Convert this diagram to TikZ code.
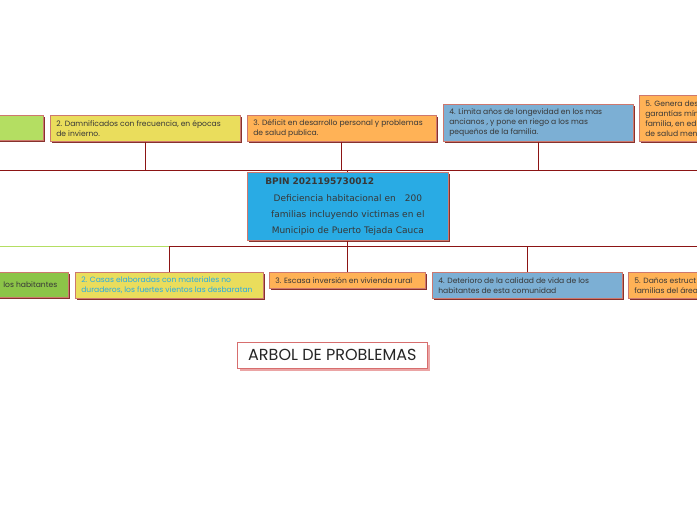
\documentclass[tikz,border=0pt]{standalone}
\usepackage{fontspec}
\setmainfont{Poppins}
\newfontfamily\dvs{DejaVu Sans}
\usetikzlibrary{shadows}
\definecolor{lgreen}{RGB}{180,222,98}
\definecolor{dgreen}{RGB}{140,196,72}
\definecolor{yel}{RGB}{234,221,92}
\definecolor{ora}{RGB}{255,178,86}
\definecolor{sblue}{RGB}{124,175,212}
\definecolor{cblue}{RGB}{41,171,228}
\definecolor{conn}{RGB}{140,20,20}
\definecolor{bord}{RGB}{205,120,110}
\definecolor{shad}{RGB}{135,50,45}
\definecolor{txt}{RGB}{55,55,55}
\definecolor{ttlbord}{RGB}{215,110,110}
\definecolor{ttlshad}{RGB}{235,165,165}
\begin{document}
\begin{tikzpicture}[x=1pt,y=-1pt,
  box/.style={draw=bord, line width=0.6pt, rectangle, anchor=north west,
    inner xsep=6pt, inner ysep=2pt, align=flush left, text=txt,
    font=\fontsize{7.6}{10}\selectfont,
    drop shadow={shadow xshift=2pt, shadow yshift=-2pt, fill=shad, opacity=1}},
  cbox/.style={box, align=center, inner xsep=6pt,
    font=\dvs\fontsize{9}{15.8}\selectfont},
  ttl/.style={draw=ttlbord, line width=0.7pt, fill=white, anchor=north west,
    minimum width=190pt, minimum height=26pt, inner sep=0pt, text=black!85,
    font=\fontsize{16}{18}\selectfont,
    drop shadow={shadow xshift=2.2pt, shadow yshift=-2.2pt, fill=ttlshad, opacity=1}},
  link/.style={draw=conn, line width=0.9pt},
  glink/.style={draw=lgreen, line width=0.9pt}
]
\useasboundingbox (0,0) rectangle (697,520);
\fill[white] (0,0) rectangle (697,520);

% bus coordinates
\coordinate (tbL) at (0,170);
\coordinate (tbR) at (697,170);
\coordinate (bbL) at (0,246);
\coordinate (bbM) at (170,246);
\coordinate (bbR) at (697,246);

% top row (effects)
\node[box, fill=lgreen, text width=81pt, minimum height=25pt] (e1) at (-50,115) {};
\node[box, fill=yel, text width=178pt, minimum height=26pt] (e2) at (50,115)
  {2. Damnificados con frecuencia, en épocas\\de invierno.};
\node[box, fill=ora, text width=177pt, minimum height=26pt] (e3) at (247,115)
  {3. Déficit en desarrollo personal y problemas\\de salud publica.};
\node[box, fill=sblue, text width=178pt, minimum height=37pt] (e4) at (443,104)
  {4. Limita años de longevidad en los mas\\ancianos , y pone en riego a los mas\\pequeños de la familia.};
\node[box, fill=ora, text width=100pt, minimum height=46pt] (e5) at (639,95)
  {5. Genera des\\garantías mín\\familia, en ed\\de salud men};

% central problem
\node[cbox, fill=cblue, text width=189pt, minimum height=68pt] (ctr) at (247,172)
  {\makebox[\linewidth][l]{\hspace{12pt}\textbf{BPIN 2021195730012}}\\[2pt]
   Deficiencia habitacional en \ \ 200\\
   familias incluyendo victimas en el\\
   Municipio de Puerto Tejada Cauca};

% bottom row (causes)
\node[box, fill=dgreen, align=flush right, inner xsep=11pt, text width=106pt, minimum height=25pt] (c1) at (-60,272)
  {los habitantes};
\node[box, fill=yel, text=cblue, text width=176pt, minimum height=26pt] (c2) at (75,272)
  {2. Casas elaboradas con materiales no\\duraderos, los fuertes vientos las desbaratan};
\node[box, fill=ora, text width=144pt, minimum height=16pt] (c3) at (269,272)
  {3. Escasa inversión en vivienda rural};
\node[box, fill=sblue, text width=178pt, minimum height=26pt] (c4) at (432,272)
  {4. Deterioro de la calidad de vida de los\\habitantes de esta comunidad};
\node[box, fill=ora, text width=100pt, minimum height=26pt] (c5) at (628,272)
  {5. Daños estruct\\familias del área};

% title
\node[ttl] (title) at (237,342) {ARBOL DE PROBLEMAS};

% connectors top
\draw[link] (tbL) -- (tbR);
\foreach \n in {e2,e3,e4} \draw[link] (\n.south) -- (\n.south |- tbL);
\draw[link] (ctr.north) -- (ctr.north |- tbL);

% connectors bottom
\draw[glink] (bbL) -- (bbM);
\draw[link] (bbM) -- (bbR);
\draw[link] (ctr.south) -- (ctr.south |- bbL);
\foreach \n in {c2,c3,c4} \draw[link] (\n.north) -- (\n.north |- bbL);
\end{tikzpicture}
\end{document}
